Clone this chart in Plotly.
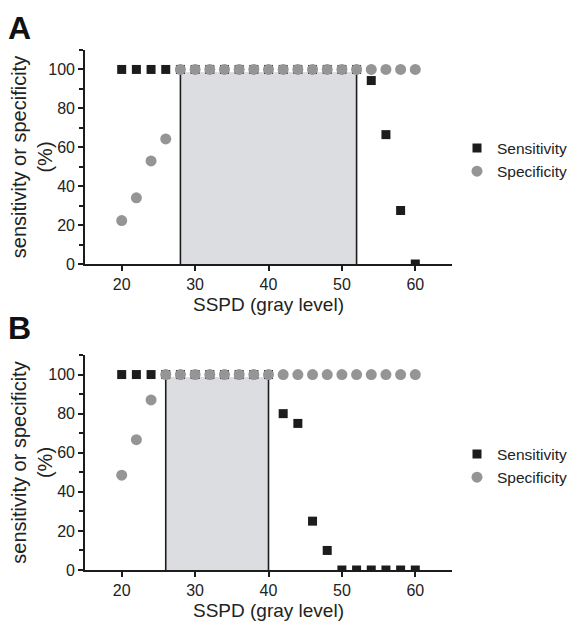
import plotly.graph_objects as go

# ---------------- data ----------------
ssp_x = [20, 22, 24, 26, 28, 30, 32, 34, 36, 38, 40, 42, 44, 46, 48, 50, 52, 54, 56, 58, 60]

sens_A = [100, 100, 100, 100, 100, 100, 100, 100, 100, 100, 100, 100, 100, 100, 100, 100, 100, 94.3, 66.5, 27.5, 0]
spec_A = [22.3, 34, 53, 64.3, 100, 100, 100, 100, 100, 100, 100, 100, 100, 100, 100, 100, 100, 100, 100, 100, 100]

sens_B = [100, 100, 100, 100, 100, 100, 100, 100, 100, 100, 100, 80, 75, 25, 10, 0, 0, 0, 0, 0, 0]
spec_B = [48.5, 66.7, 87, 100, 100, 100, 100, 100, 100, 100, 100, 100, 100, 100, 100, 100, 100, 100, 100, 100, 100]

cutoff_A = [28, 52]
cutoff_B = [26, 40]
band_top = 98.7

x_ticks = [20, 30, 40, 50, 60]
y_ticks = [0, 20, 40, 60, 80, 100]

# ---------------- style ----------------
FONT = "Liberation Sans, Arial, sans-serif"
BLACK = "#1c1c1c"
GRAY = "#959595"
SHADE = "#dcdde0"
OFF = 8  # page body margin
W, H = 576 - OFF, 625 - OFF

fig = go.Figure()

def add_panel(idx, sens, spec, cutoff, legend_name):
    xa = "x" if idx == 1 else "x2"
    ya = "y" if idx == 1 else "y2"
    fig.add_trace(go.Scatter(x=ssp_x, y=sens, mode="markers", name="Sensitivity",
                             marker=dict(symbol="square", size=9, color=BLACK),
                             xaxis=xa, yaxis=ya, legend=legend_name))
    fig.add_trace(go.Scatter(x=ssp_x, y=spec, mode="markers", name="Specificity",
                             marker=dict(symbol="circle", size=11, color=GRAY),
                             xaxis=xa, yaxis=ya, legend=legend_name))
    fig.add_shape(type="rect", xref=xa, yref=ya, x0=cutoff[0], x1=cutoff[1], y0=0, y1=band_top,
                  fillcolor=SHADE, line=dict(width=0), layer="below")
    for cx in cutoff:
        fig.add_shape(type="line", xref=xa, yref=ya, x0=cx, x1=cx, y0=0, y1=band_top,
                      line=dict(color=BLACK, width=1.6), layer="below")

add_panel(1, sens_A, spec_A, cutoff_A, "legend")
add_panel(2, sens_B, spec_B, cutoff_B, "legend2")

def px_x(p):
    return (p - OFF) / W

def px_y(p):
    return 1 - (p - OFF) / H

xdom = [px_x(85), px_x(452)]
domA = [px_y(264), px_y(50)]
domB = [px_y(570), px_y(355)]

xaxis_common = dict(range=[15, 65], tickvals=x_ticks, ticks="outside", ticklen=5, tickwidth=1.5,
                    tickcolor=BLACK, showline=True, linecolor=BLACK, linewidth=1.6,
                    showgrid=False, zeroline=False, tickfont=dict(size=16, color="#222"),
                    title=dict(text="SSPD (gray level)", font=dict(size=19, color="#222"), standoff=6),
                    automargin=False, domain=xdom)
yaxis_common = dict(range=[0, 110], tickvals=y_ticks, ticks="outside", ticklen=5, tickwidth=1.5,
                    tickcolor=BLACK, showline=True, linecolor=BLACK, linewidth=1.6,
                    showgrid=False, zeroline=False, tickfont=dict(size=16, color="#222"),
                    minor=dict(ticks="outside", dtick=10, tick0=0, ticklen=4, tickwidth=1.5, tickcolor=BLACK, showgrid=False),
                    title=dict(text="sensitivity or specificity<br>(%)", font=dict(size=20, color="#222"), standoff=3),
                    automargin=False)

fig.update_layout(
    width=W, height=H, autosize=False,
    margin=dict(l=0, r=0, t=0, b=0),
    paper_bgcolor="white", plot_bgcolor="white",
    font=dict(family=FONT, color="#222"),
    xaxis=dict(**xaxis_common, anchor="y"),
    yaxis=dict(**yaxis_common, domain=domA, anchor="x"),
    xaxis2=dict(**xaxis_common, anchor="y2"),
    yaxis2=dict(**yaxis_common, domain=domB, anchor="x2"),
    legend=dict(x=px_x(457), y=px_y(160), xanchor="left", yanchor="middle",
                font=dict(size=15.5, color="#222"), bgcolor="rgba(0,0,0,0)", tracegroupgap=0),
    legend2=dict(x=px_x(457), y=px_y(466), xanchor="left", yanchor="middle",
                 font=dict(size=15.5, color="#222"), bgcolor="rgba(0,0,0,0)", tracegroupgap=0),
    annotations=[
        dict(text="<b>A</b>", x=px_x(6), y=px_y(8), xref="paper", yref="paper", xanchor="left",
             yanchor="top", showarrow=False, font=dict(size=32, color="#111")),
        dict(text="<b>B</b>", x=px_x(6), y=px_y(308), xref="paper", yref="paper", xanchor="left",
             yanchor="top", showarrow=False, font=dict(size=32, color="#111")),
    ],
)

fig.write_html("out.html")
